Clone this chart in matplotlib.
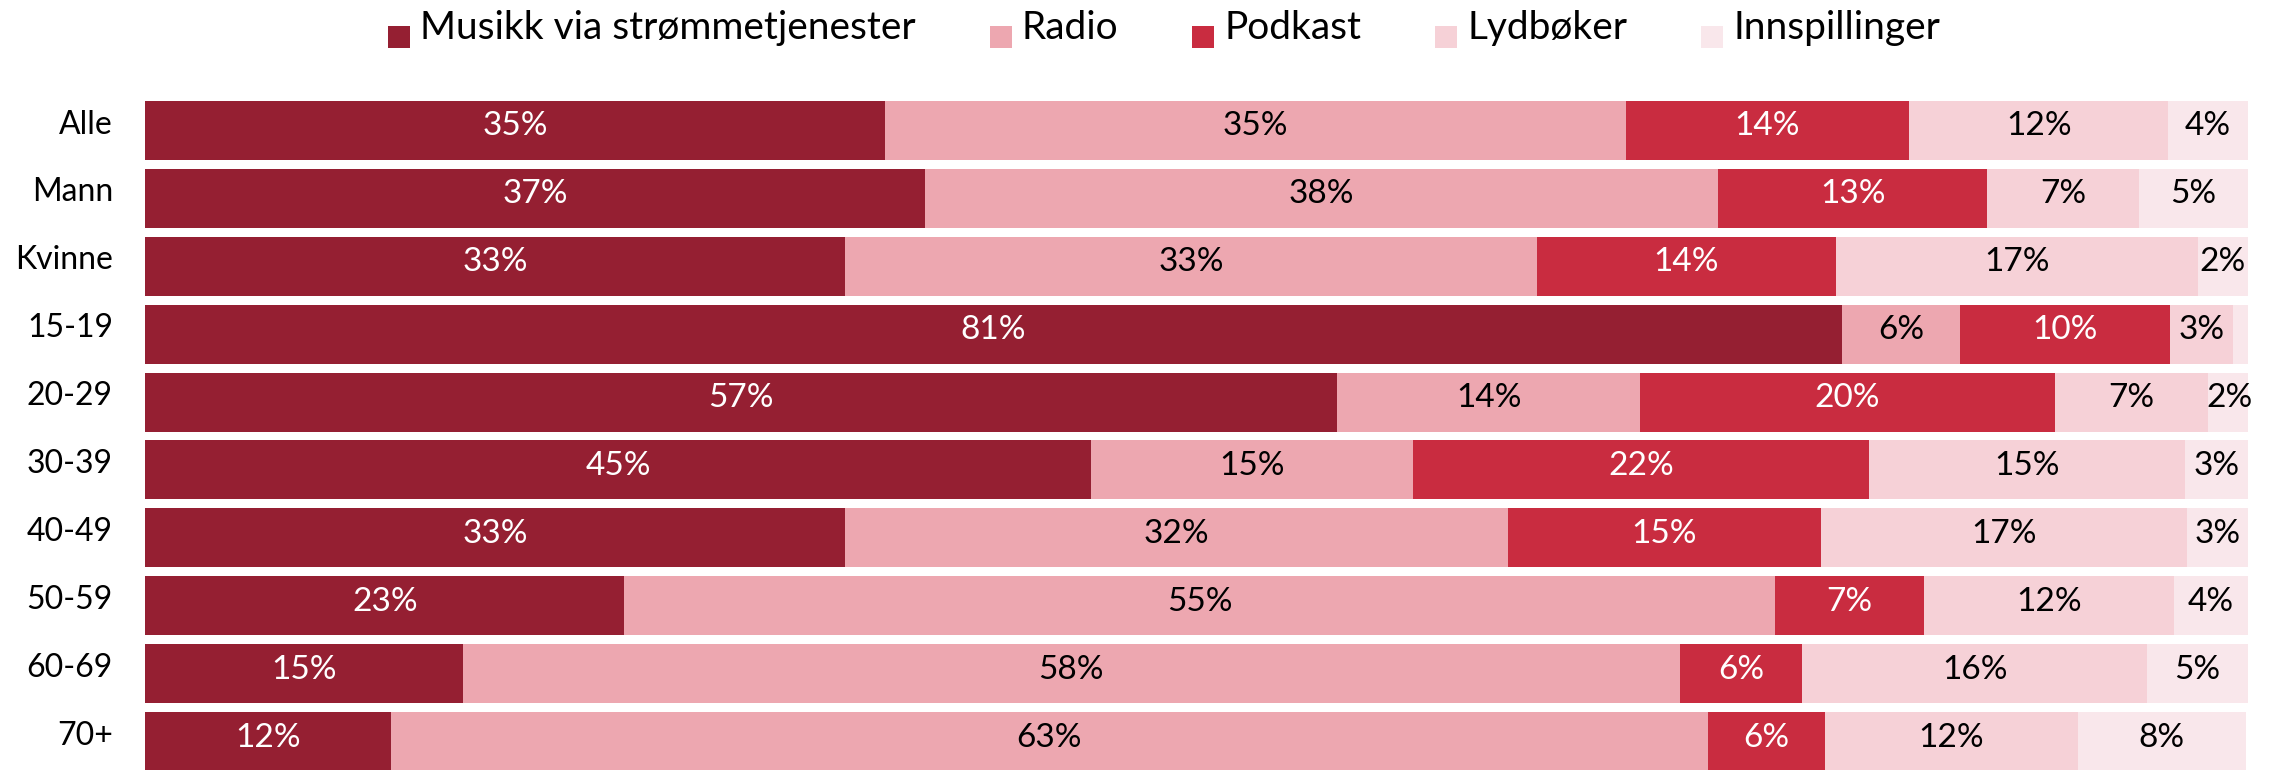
import matplotlib
matplotlib.use("Agg")
import matplotlib.pyplot as plt
from matplotlib.patches import Rectangle
import numpy as np

plt.rcParams['font.family'] = ['Lato', 'DejaVu Sans']

# Data (share in %)
groups = ['Alle', 'Mann', 'Kvinne', '15-19', '20-29', '30-39', '40-49', '50-59', '60-69', '70+']
series = ['Musikk via strømmetjenester', 'Radio', 'Podkast', 'Lydbøker', 'Innspillinger']
musikk = [35.2, 37.1, 33.3, 80.7, 56.7, 45.0, 33.3, 22.8, 15.1, 11.7]
radio = [35.2, 37.7, 32.9, 5.6, 14.4, 15.3, 31.5, 54.7, 57.9, 62.6]
podkast = [13.5, 12.8, 14.2, 10.0, 19.7, 21.7, 14.9, 7.1, 5.8, 5.6]
lydboker = [12.3, 7.2, 17.2, 3.0, 7.3, 15.0, 17.4, 11.9, 16.4, 12.0]
innspillinger = [3.8, 5.2, 2.4, 0.7, 2.0, 3.0, 2.9, 3.5, 4.8, 8.0]

colors = ['#951f32', '#eda7b0', '#c92c40', '#f6d1d7', '#f9e7eb']
text_colors = ['white', 'black', 'white', 'black', 'black']

W, H = 2272, 770
fig = plt.figure(figsize=(W / 100, H / 100), dpi=100)

# axes placed in pixel terms
top_px = 96.5
ax = fig.add_axes([145 / W, 0, (2248 - 145) / W, (H - top_px) / H])
pitch = 67.9
ax.set_xlim(0, 100)
ax.set_ylim(-0.5 + (H - top_px) / pitch, -0.5)
ax.axis('off')

data = [musikk, radio, podkast, lydboker, innspillinger]
y = np.arange(len(groups))
left = np.zeros(len(groups))
for vals, col, tcol in zip(data, colors, text_colors):
    vals = np.array(vals)
    ax.barh(y, vals, left=left, height=0.87, color=col, linewidth=0)
    for yi, (l, v) in enumerate(zip(left, vals)):
        if v >= 1:
            ax.text(l + v / 2, yi + 0.074, f'{round(v):.0f}%', ha='center', va='baseline',
                    color=tcol, fontsize=24)
    left += vals

# row labels
for yi, g in enumerate(groups):
    ax.text((113 - 145) / (2248 - 145), yi + 0.045, g, transform=ax.get_yaxis_transform(),
            ha='right', va='baseline', fontsize=23, color='black')

# legend drawn manually across the top
renderer = fig.canvas.get_renderer()
x = 388
base_y = H - 39
for name, col in zip(series, colors):
    fig.patches.append(Rectangle((x / W, (H - 48) / H), 22 / W, 22 / H, transform=fig.transFigure,
                                 facecolor=col, edgecolor='none'))
    t = fig.text((x + 32) / W, base_y / H, name, ha='left', va='baseline', fontsize=28)
    w = t.get_window_extent(renderer).width
    x = x + 32 + w + 74

fig.savefig('out.png', dpi=100)
